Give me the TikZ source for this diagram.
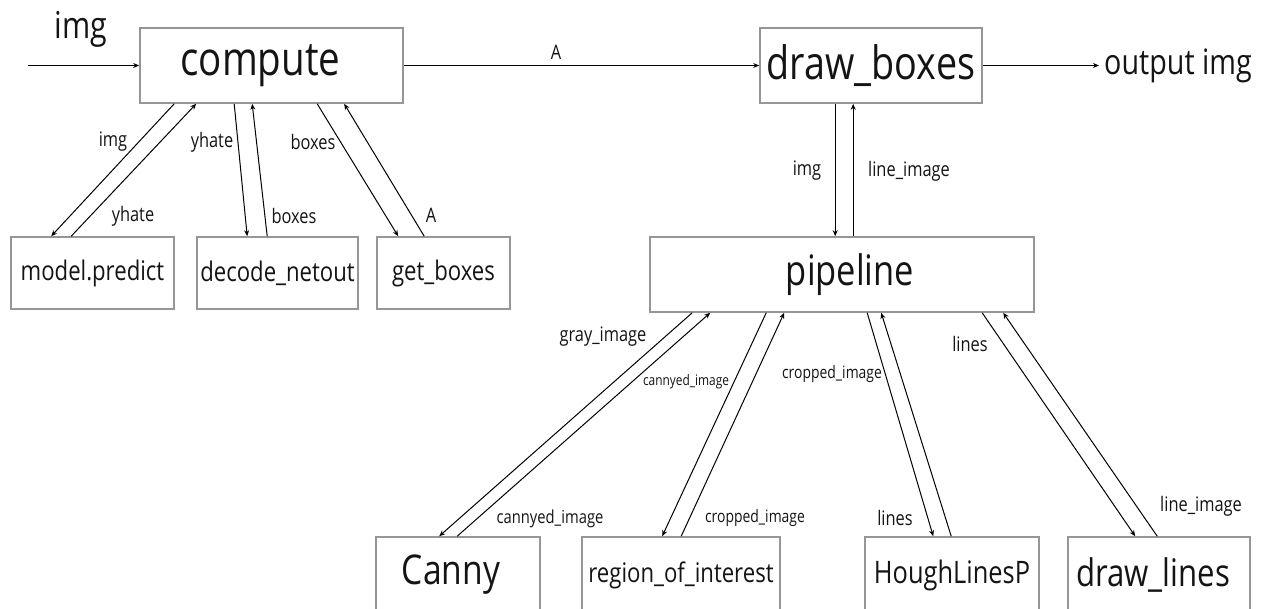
\documentclass[tikz,border=0pt]{standalone}
\usepackage{fontspec}
\setmainfont{Open Sans}[FakeStretch=0.82]
\usetikzlibrary{arrows.meta}
\definecolor{box_gray}{RGB}{150,150,150}
\definecolor{ink_black}{RGB}{20,20,20}

\begin{document}
\begin{tikzpicture}[x=1pt, y=-1pt,
    box/.style={draw=box_gray, line width=1.6pt, inner sep=0pt, text=ink_black},
    flow/.style={-{Stealth[length=6pt,width=5pt]}, line width=1pt},
    lbl/.style={inner sep=0pt, text=ink_black, font=\fontsize{20}{22}\selectfont}]

    \useasboundingbox (0,0) rectangle (1272,608);
    \clip (0,0) rectangle (1272,608);

    % Top row
    \node[box, minimum width=263pt, minimum height=75pt, font=\fontsize{47}{50}\selectfont] (compute) at (271.5,65.5) {compute\hspace*{22pt}};
    \node[box, minimum width=222pt, minimum height=75pt, font=\fontsize{46}{50}\selectfont] (drawboxes) at (871,65.5) {draw\_boxes};
    \node[inner xsep=5pt, inner ysep=0pt, anchor=west, text=ink_black, font=\fontsize{35}{38}\selectfont] (output) at (1099,65.5) {output img};
    \node[inner sep=0pt, anchor=base, text=ink_black, font=\fontsize{37}{40}\selectfont] (inputlbl) at (81,38) {img};
    \coordinate (input) at (28,65.5);

    \draw[flow] (input) -- (compute.west);
    \draw[flow] (compute.east) -- (drawboxes.west);
    \draw[flow] (drawboxes.east) -- (output.west);
    \node[lbl] (lA) at (556,52) {A};

    % compute helpers
    \node[box, minimum width=163pt, minimum height=72pt, font=\fontsize{27}{30}\selectfont] (predict) at (92.5,273) {model.predict};
    \node[box, minimum width=161pt, minimum height=72pt, font=\fontsize{27}{30}\selectfont] (decode) at (277.5,273) {decode\_netout};
    \node[box, minimum width=133pt, minimum height=72pt, font=\fontsize{27}{30}\selectfont] (getboxes) at (443.5,273) {get\_boxes};

    \draw[flow] ([xshift=35pt]compute.south west) -- ([xshift=41pt]predict.north west);
    \draw[flow] ([xshift=61pt]predict.north west) -- ([xshift=57pt]compute.south west);
    \draw[flow] ([xshift=95pt]compute.south west) -- ([xshift=51pt]decode.north west);
    \draw[flow] ([xshift=71pt]decode.north west) -- ([xshift=113pt]compute.south west);
    \draw[flow] ([xshift=178pt]compute.south west) -- ([xshift=22pt]getboxes.north west);
    \draw[flow] ([xshift=48pt]getboxes.north west) -- ([xshift=205pt]compute.south west);

    \node[lbl] (lImgA) at (113,142) {img};
    \node[lbl] (lYhateA) at (133,216) {yhate};
    \node[lbl] (lYhateB) at (212,142) {yhate};
    \node[lbl] (lBoxesA) at (294,216) {boxes};
    \node[lbl] (lBoxesB) at (313,142) {boxes};
    \node[lbl] (lAB) at (431,215) {A};

    % pipeline
    \node[box, minimum width=384pt, minimum height=75pt, font=\fontsize{42}{46}\selectfont] (pipeline) at (842,274.5) {\hspace*{16pt}pipeline};
    \draw[flow] ([xshift=76pt]drawboxes.south west) -- ([xshift=186pt]pipeline.north west);
    \draw[flow] ([xshift=204pt]pipeline.north west) -- ([xshift=94pt]drawboxes.south west);
    \node[lbl] (lImgB) at (807,171) {img};
    \node[lbl] (lLineImgA) at (909,171) {line\_image};

    % pipeline steps
    \node[box, minimum width=164pt, minimum height=76pt, font=\fontsize{41}{44}\selectfont] (canny) at (458,575) {Canny\hspace*{14pt}};
    \node[box, minimum width=198pt, minimum height=76pt, font=\fontsize{27}{30}\selectfont] (roi) at (681,575) {region\_of\_interest};
    \node[box, minimum width=174pt, minimum height=76pt, font=\fontsize{31}{34}\selectfont] (hough) at (952,575) {HoughLinesP};
    \node[box, minimum width=182pt, minimum height=76pt, font=\fontsize{38}{42}\selectfont] (drawlines) at (1159,575) {draw\_lines\hspace*{12pt}};

    \draw[flow] ([xshift=43pt]pipeline.south west) -- ([xshift=64pt]canny.north west);
    \draw[flow] ([xshift=82pt]canny.north west) -- ([xshift=61pt]pipeline.south west);
    \draw[flow] ([xshift=117pt]pipeline.south west) -- ([xshift=81pt]roi.north west);
    \draw[flow] ([xshift=100pt]roi.north west) -- ([xshift=135pt]pipeline.south west);
    \draw[flow] ([xshift=218pt]pipeline.south west) -- ([xshift=69pt]hough.north west);
    \draw[flow] ([xshift=87pt]hough.north west) -- ([xshift=232pt]pipeline.south west);
    \draw[flow] ([xshift=333pt]pipeline.south west) -- ([xshift=68pt]drawlines.north west);
    \draw[flow] ([xshift=90pt]drawlines.north west) -- ([xshift=354pt]pipeline.south west);

    \node[lbl] (lGray) at (603,337) {gray\_image};
    \node[lbl, font=\fontsize{14.5}{16}\selectfont] (lCannyA) at (686,382) {cannyed\_image};
    \node[lbl, font=\fontsize{18}{20}\selectfont] (lCannyB) at (550,519) {cannyed\_image};
    \node[lbl, font=\fontsize{17}{19}\selectfont] (lCropA) at (832,374) {cropped\_image};
    \node[lbl, font=\fontsize{17}{19}\selectfont] (lCropB) at (755,518) {cropped\_image};
    \node[lbl] (lLinesA) at (970,344) {lines};
    \node[lbl] (lLinesB) at (895,518) {lines};
    \node[lbl] (lLineImgB) at (1201,506) {line\_image};

  \end{tikzpicture}
\end{document}
